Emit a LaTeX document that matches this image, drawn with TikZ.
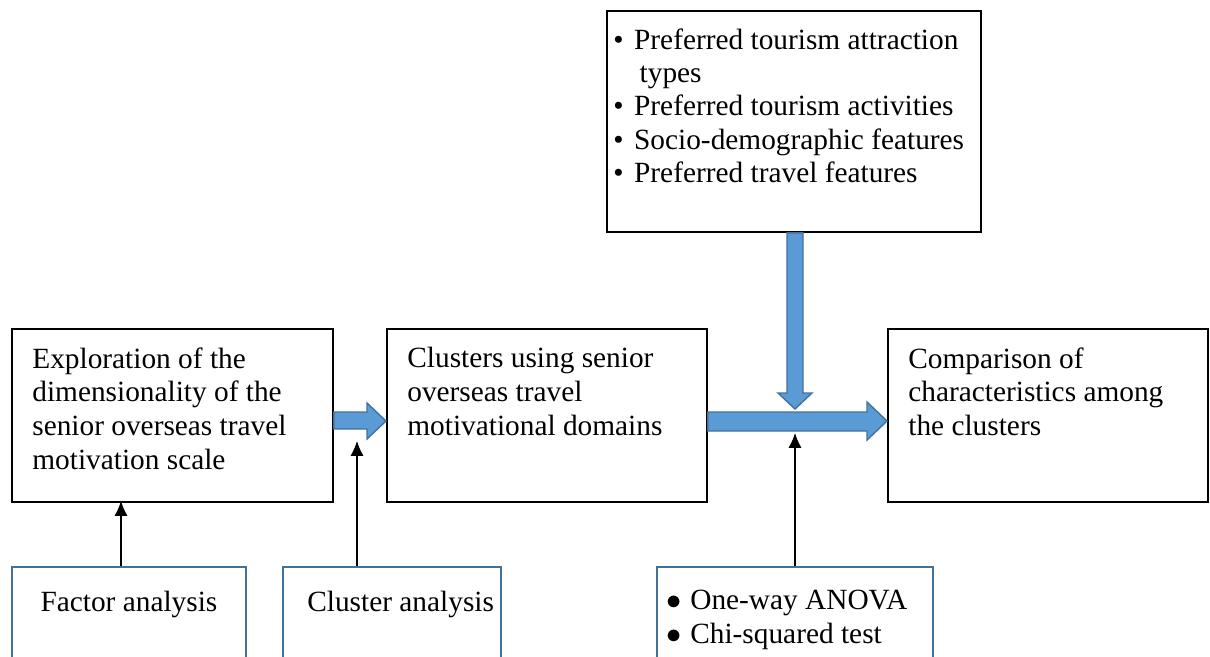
\documentclass[tikz,border=0pt]{standalone}
\usepackage{fontspec}
\setmainfont{Liberation Serif}
\usetikzlibrary{arrows.meta}
\definecolor{arrowblue}{HTML}{5B9BD5}
\definecolor{edgeblue}{HTML}{41719C}
\tikzset{
  mainbox/.style={draw=black, line width=1.1pt, anchor=north west, inner sep=0pt},
  methodbox/.style={draw=edgeblue, line width=1.1pt, anchor=north west, inner sep=0pt},
  boxtext/.style={anchor=north west, inner sep=0pt, align=left, font=\fontsize{16.7pt}{19.3pt}\selectfont},
  blockarrow/.style={fill=arrowblue, draw=edgeblue, line width=0.8pt, line join=miter},
  thinarrow/.style={line width=0.7pt, -{Latex[length=8.5pt,width=7.5pt]}},
}
\begin{document}
\begin{tikzpicture}[x=0.02cm,y=-0.02cm]
    \useasboundingbox (0,0) rectangle (1210,656);
    \clip (0,0) rectangle (1210,656);
    % Main Boxes
    \node[mainbox, minimum width=6.42cm, minimum height=3.46cm] (explore) at (11,328) {};
    \node[mainbox, minimum width=6.4cm, minimum height=3.46cm] (clusters) at (386,328) {};
    \node[mainbox, minimum width=6.4cm, minimum height=3.46cm] (compare) at (887,328) {};
    \node[mainbox, minimum width=7.48cm, minimum height=4.42cm] (features) at (606,10) {};
    \node[boxtext] (exploretxt) at ([xshift=0.42cm,yshift=-0.38cm]explore.north west)
      {Exploration of the\\dimensionality of the\\senior overseas travel\\motivation scale};
    \node[boxtext] (clusterstxt) at ([xshift=0.42cm,yshift=-0.38cm]clusters.north west)
      {Clusters using senior\\overseas travel\\motivational domains};
    \node[boxtext] (comparetxt) at ([xshift=0.42cm,yshift=-0.38cm]compare.north west)
      {Comparison of\\characteristics among\\the clusters};
    \node[boxtext, font=\fontsize{16.7pt}{19pt}\selectfont] (featurestxt) at ([xshift=0.14cm,yshift=-0.36cm]features.north west)
      {\textbullet\hspace{6pt}Preferred tourism attraction\\\hspace*{15pt}types\\\textbullet\hspace{6pt}Preferred tourism activities\\\textbullet\hspace{6pt}Socio-demographic features\\\textbullet\hspace{6pt}Preferred travel features};
    % Method Boxes
    \node[methodbox, minimum width=4.68cm, minimum height=2.48cm] (factor) at (11,566) {};
    \node[methodbox, minimum width=4.36cm, minimum height=2.48cm] (clusteran) at (282,566) {};
    \node[methodbox, minimum width=5.52cm, minimum height=2.48cm] (tests) at (656,566) {};
    \node[boxtext, anchor=north] (factortxt) at ([yshift=-0.5cm]factor.north) {Factor analysis};
    \node[boxtext] (clusterantxt) at ([xshift=0.5cm,yshift=-0.5cm]clusteran.north west) {Cluster analysis};
    \node[boxtext] (teststxt) at ([xshift=0.2cm,yshift=-0.48cm]tests.north west)
      {$\bullet$\hspace{5pt}One-way ANOVA\\$\bullet$\hspace{5pt}Chi-squared test};
    % Block Arrows
    \filldraw[blockarrow] (explore.east |- 0,412) -- (367,412) -- (367,403) -- (clusters.west |- 0,421)
      -- (367,439) -- (367,429) -- (explore.east |- 0,429) -- cycle;
    \filldraw[blockarrow] (clusters.east |- 0,412) -- (867,412) -- (867,402) -- (compare.west |- 0,421)
      -- (867,440) -- (867,431) -- (clusters.east |- 0,431) -- cycle;
    \filldraw[blockarrow] (787,0 |- features.south) -- (787,393) -- (778,393) -- (795,409)
      -- (812,393) -- (803,393) -- (803,0 |- features.south) -- cycle;
    % Method Arrows
    \coordinate (factorend) at (121,501);
    \coordinate (clusteranend) at (357,441);
    \coordinate (testsend) at (795,433);
    \draw[thinarrow] (factor.north -| factorend) -- (factorend);
    \draw[thinarrow] (clusteran.north -| clusteranend) -- (clusteranend);
    \draw[thinarrow] (tests.north -| testsend) -- (testsend);
\end{tikzpicture}
\end{document}
